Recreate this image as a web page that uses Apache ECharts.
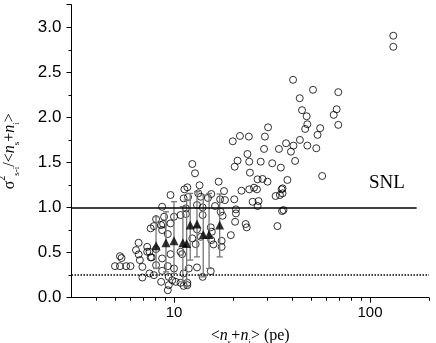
<!DOCTYPE html>
<html>
<head>
<meta charset="utf-8">
<script src="https://cdn.jsdelivr.net/npm/echarts@6/dist/echarts.min.js"></script>
<style>
  html, body { margin: 0; padding: 0; background: #fff; }
  #chart { width: 436px; height: 343px; }
</style>
</head>
<body>
<div id="chart"></div>
<script>
// open circles: [<ns+ni> (pe), normalised variance]
const circlePoints = [
  [131.5, 2.906], [131.5, 2.783],
  [40.5, 2.417], [51.2, 2.306], [68.9, 2.28], [43.8, 2.213], [45, 2.08], [67.6, 2.09],
  [47.5, 2.013], [65.3, 2.028], [68.9, 1.917], [47.9, 1.924], [46.7, 1.872], [55.7, 1.88],
  [54.0, 1.806], [37.3, 1.713], [43.9, 1.75], [40.7, 1.687], [47.9, 1.687], [53.2, 1.658],
  [39.5, 1.62], [41.5, 1.517], [57, 1.35], [37.9, 1.306], [35.8, 1.213], [35.8, 1.158],
  [36.2, 0.972],
  [30.2, 1.89], [21.7, 1.794], [24.1, 1.787], [29.1, 1.787], [19.95, 1.735], [28.8, 1.65],
  [34.3, 1.65], [23.7, 1.594], [27.7, 1.509], [31.7, 1.491], [21.1, 1.52], [24.2, 1.509],
  [20.4, 1.453], [35.1, 1.443], [12.4, 1.483], [12.8, 1.38], [24.4, 1.387], [16.9, 1.287],
  [13.5, 1.247], [11.7, 1.224], [11.3, 1.202], [26.7, 1.313], [28.3, 1.317], [30.0, 1.287],
  [25.6, 1.22], [22.1, 1.187], [24.2, 1.202], [26.5, 1.202], [35.4, 1.202], [34.7, 1.139],
  [33, 1.128], [9.6, 1.139], [13.3, 1.158], [15.5, 1.15], [18.0, 1.183], [11.2, 1.102],
  [11.8, 1.117], [13.7, 1.12], [14.9, 1.106], [17.2, 1.091], [20.3, 1.091], [18.2, 1.083],
  [25.2, 1.064], [27, 1.072], [26.7, 1.017], [8.7, 1.009], [11.5, 0.991], [13.1, 1.028],
  [14, 1.002], [16.2, 1.017], [17.3, 0.953], [20.7, 0.98], [20.7, 0.935], [35.6, 0.961],
  [8.1, 0.872], [8.9, 0.898], [7.9, 0.794], [8.8, 0.817], [10, 0.898], [9.6, 0.824],
  [10.8, 0.917], [11.5, 0.928], [14, 0.917], [17.7, 0.909], [20.5, 0.842], [23.2, 0.817],
  [23.5, 0.78], [19.5, 0.694], [33.7, 0.794], [7.6, 0.769], [8.7, 0.75], [9.3, 0.706],
  [13.1, 0.758], [15.4, 0.78], [15.6, 0.731], [13.7, 0.676], [12.4, 0.658], [15.5, 0.639],
  [17.5, 0.564], [15.9, 0.591], [17.5, 0.631], [12.9, 0.594], [6.6, 0.609], [7.3, 0.564],
  [6.4, 0.528], [7.5, 0.509], [8.1, 0.539], [9.6, 0.483], [10.8, 0.509], [11.0, 0.483],
  [8.7, 0.435], [6.7, 0.417], [7.6, 0.447], [6.6, 0.48], [7.3, 0.51], [7.7, 0.447],
  [5.0, 0.35], [5.3, 0.35], [5.7, 0.35], [6.0, 0.35], [5.3, 0.46], [5.4, 0.44],
  [6.9, 0.342], [8.1, 0.361], [9.3, 0.35], [10, 0.324], [11.9, 0.324], [13.1, 0.336],
  [15.4, 0.294], [7.5, 0.269], [8.7, 0.298], [11.2, 0.269], [6.9, 0.224], [7.9, 0.25],
  [9.4, 0.231], [9.8, 0.194], [8.6, 0.176], [10.2, 0.176], [10.8, 0.165], [11.7, 0.165],
  [11.2, 0.131], [9.4, 0.139], [9.3, 0.083], [14, 0.231], [11.7, 0.139], [8.6, 0.806]
];

// averaged points (triangles) and their error bars
const avgX = [8.1, 9.1, 10.0, 11.1, 11.6, 12.1, 13.1, 14.1, 15.1, 17.1];
const avgY = [0.576, 0.609, 0.631, 0.609, 0.602, 0.806, 0.817, 0.702, 0.702, 0.806];
const errLow = [0.324, 0.287, 0.269, 0.176, 0.12, 0.417, 0.453, 0.231, 0.324, 0.453];
const errHigh = [0.898, 0.953, 1.065, 1.01, 1.083, 1.157, 1.176, 1.139, 1.157, 1.15];

const snlLevel = 1.0;
const floorLevel = 0.25;

const xMajorTicks = [10, 100];
const xMinorTicks = [4, 5, 6, 7, 8, 9, 20, 30, 40, 50, 60, 70, 80, 90, 200];

const chart = echarts.init(document.getElementById('chart'));

const triangleData = avgX.map((x, i) => [x, avgY[i]]);
const errorData = avgX.map((x, i) => [x, errLow[i], errHigh[i]]);

const serif = '"Liberation Serif", "Times New Roman", serif';

const option = {
  backgroundColor: '#fff',
  animation: false,
  grid: { left: 71.5, right: 7, top: 4.7, bottom: 45.3, containLabel: false, outerBoundsMode: 'none' },
  xAxis: [
    {
      type: 'log',
      logBase: 10,
      min: 3,
      max: 200,
      splitLine: { show: false },
      axisLine: { lineStyle: { color: '#000', width: 1 } },
      axisTick: { customValues: xMajorTicks, length: 5, lineStyle: { color: '#000' } },
      axisLabel: {
        customValues: xMajorTicks,
        margin: 8,
        color: '#000',
        fontFamily: '"Liberation Sans", Arial, sans-serif',
        fontSize: 15
      },
      name: '{t|<}{it|n}{sub|s}{t|+}{it|n}{sub|i}{t|> (pe)}',
      nameLocation: 'middle',
      nameGap: 27,
      nameTextStyle: {
        rich: {
          t: { fontFamily: serif, fontSize: 16, color: '#000', lineHeight: 22, verticalAlign: 'middle' },
          it: { fontFamily: serif, fontSize: 16, fontStyle: 'italic', color: '#000', lineHeight: 22, verticalAlign: 'middle' },
          sub: { fontFamily: serif, fontSize: 9, color: '#000', lineHeight: 22, verticalAlign: 'bottom' }
        }
      }
    },
    {
      // minor ticks only
      type: 'log',
      logBase: 10,
      min: 3,
      max: 200,
      position: 'bottom',
      splitLine: { show: false },
      axisLine: { show: false },
      axisTick: { show: true, customValues: xMinorTicks, length: 3, lineStyle: { color: '#000' } },
      axisLabel: { show: false }
    }
  ],
  yAxis: {
    type: 'value',
    min: 0,
    max: 3.25,
    interval: 0.5,
    splitLine: { show: false },
    axisLine: { show: true, lineStyle: { color: '#000', width: 1 } },
    axisTick: { show: true, length: 5, lineStyle: { color: '#000' } },
    minorTick: { show: true, splitNumber: 2, length: 3, lineStyle: { color: '#000' } },
    axisLabel: {
      margin: 10,
      color: '#000',
      fontFamily: '"Liberation Sans", Arial, sans-serif',
      fontSize: 17,
      formatter: v => (Math.abs(v * 2 - Math.round(v * 2)) < 1e-6 ? v.toFixed(1) : '')
    },
    name: '{t|σ}{sup|2}{sub|s-i}{t|/<}{it|n}{sub|s}{t|+}{it|n}{sub|i}{t|>}',
    nameLocation: 'middle',
    nameRotate: 90,
    nameGap: 50,
    nameTextStyle: {
      rich: {
        t: { fontFamily: serif, fontSize: 16, color: '#000', lineHeight: 24, verticalAlign: 'middle' },
        it: { fontFamily: serif, fontSize: 16, fontStyle: 'italic', color: '#000', lineHeight: 24, verticalAlign: 'middle' },
        sup: { fontFamily: serif, fontSize: 10, color: '#000', lineHeight: 24, verticalAlign: 'top' },
        sub: { fontFamily: serif, fontSize: 9, color: '#000', lineHeight: 24, verticalAlign: 'bottom' }
      }
    }
  },
  graphic: [
    {
      type: 'text',
      left: 369,
      top: 174,
      style: { text: 'SNL', fontFamily: serif, fontSize: 19, fill: '#000' }
    }
  ],
  series: [
    {
      type: 'scatter',
      data: circlePoints,
      symbol: 'circle',
      symbolSize: 7,
      itemStyle: { color: 'rgba(0,0,0,0)', borderColor: '#000', borderWidth: 1 },
      markLine: {
        silent: true,
        symbol: 'none',
        label: { show: false },
        data: [
          [
            { coord: [3, snlLevel], lineStyle: { color: '#000', width: 1.6, type: 'solid' } },
            { coord: [173, snlLevel] }
          ],
          [
            { coord: [3, floorLevel], lineStyle: { color: '#000', width: 1.5, type: 'dotted' } },
            { coord: [200, floorLevel] }
          ]
        ]
      },
      z: 2
    },
    {
      type: 'custom',
      data: errorData,
      z: 3,
      renderItem: function (params, api) {
        const x = api.value(0);
        const lo = api.coord([x, api.value(1)]);
        const hi = api.coord([x, api.value(2)]);
        const cap = 3;
        const style = { stroke: '#777', lineWidth: 1.3 };
        return {
          type: 'group',
          children: [
            { type: 'line', shape: { x1: lo[0], y1: lo[1], x2: hi[0], y2: hi[1] }, style },
            { type: 'line', shape: { x1: lo[0] - cap, y1: lo[1], x2: lo[0] + cap, y2: lo[1] }, style },
            { type: 'line', shape: { x1: hi[0] - cap, y1: hi[1], x2: hi[0] + cap, y2: hi[1] }, style }
          ]
        };
      }
    },
    {
      type: 'scatter',
      data: triangleData,
      symbol: 'triangle',
      symbolSize: 9,
      itemStyle: { color: '#000' },
      z: 4
    },
    {
      // keeps the minor-tick axis from being blank; draws nothing
      type: 'scatter',
      xAxisIndex: 1,
      data: xMinorTicks.map(v => [v, 0]),
      symbolSize: 0,
      silent: true
    }
  ]
};

chart.setOption(option);
</script>
</body>
</html>
